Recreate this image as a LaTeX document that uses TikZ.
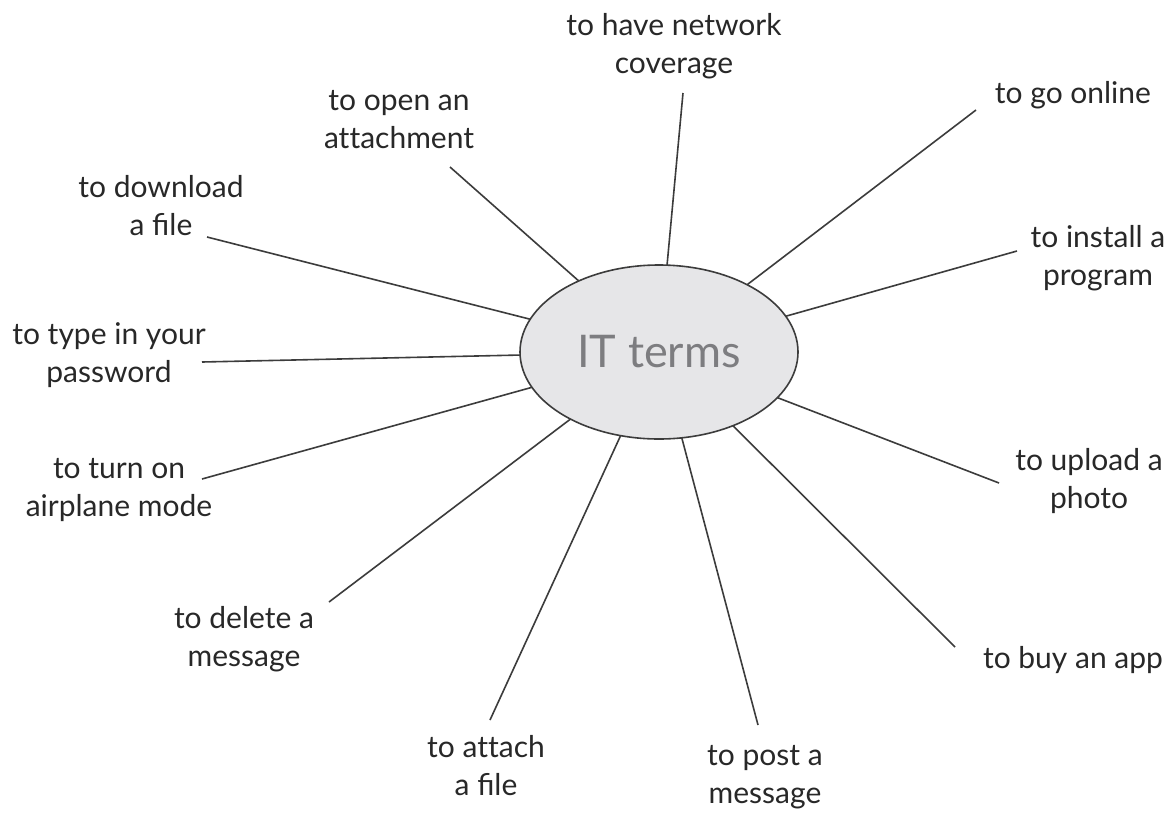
\documentclass[tikz,border=0pt]{standalone}
\usepackage{fontspec}
\setmainfont{Lato}
\usetikzlibrary{shapes.geometric}
\definecolor{ink}{RGB}{40,40,40}
\definecolor{linec}{RGB}{60,60,60}
\definecolor{fillc}{RGB}{230,230,232}
\definecolor{titlec}{RGB}{125,125,128}
\newcommand{\mytwo}[2]{\begin{tabular}[t]{@{}c@{}}#1\\#2\end{tabular}}
\begin{document}
\begin{tikzpicture}[x=1pt,y=-1pt,
  lbl/.style={anchor=base, inner sep=0pt, text=ink, font=\fontsize{30}{38.5}\selectfont},
  conn/.style={draw=linec, line width=1.6pt},
  hub/.style={ellipse, draw=linec, fill=fillc, line width=1.6pt, minimum width=278pt, minimum height=174pt, inner sep=0pt, outer sep=0pt, text=titlec, font=\fontsize{45}{54}\selectfont}]
\useasboundingbox (0,0) rectangle (1172,812);
\fill[white] (0,0) rectangle (1172,812);
% hub
\node[hub] (c) at (659,352) {IT terms};
% free ends of connectors
\coordinate (e1) at (683,93);
\coordinate (e2) at (450,167);
\coordinate (e3) at (207,237);
\coordinate (e4) at (202,362);
\coordinate (e5) at (202,479);
\coordinate (e6) at (329,602);
\coordinate (e7) at (490,720);
\coordinate (e8) at (758,725);
\coordinate (e9) at (955,647);
\coordinate (e10) at (999,483);
\coordinate (e11) at (1017,251);
\coordinate (e12) at (976,110);
% connectors
\foreach \i in {1,...,12} { \draw[conn] (c) -- (e\i); }
% labels
\node[lbl] (l1) at (674,35) {\mytwo{to have network}{coverage}};
\node[lbl] (l2) at (399,110) {\mytwo{to open an}{at\kern0pt tachment}};
\node[lbl] (l3) at (161,197) {\mytwo{to download}{a file}};
\node[lbl] (l4) at (109,344) {\mytwo{to type in your}{password}};
\node[lbl] (l5) at (119,478) {\mytwo{to turn on}{airplane mode}};
\node[lbl] (l6) at (244,628) {\mytwo{to delete a}{message}};
\node[lbl] (l7) at (486,757) {\mytwo{to at\kern0pt tach}{a file}};
\node[lbl] (l8) at (765,765) {\mytwo{to post a}{message}};
\node[lbl] (l9) at (1073,668) {to buy an app};
\node[lbl] (l10) at (1089,470) {\mytwo{to upload a}{photo}};
\node[lbl] (l11) at (1098,247) {\mytwo{to install a}{program}};
\node[lbl] (l12) at (1073,103) {to go online};
\end{tikzpicture}
\end{document}
